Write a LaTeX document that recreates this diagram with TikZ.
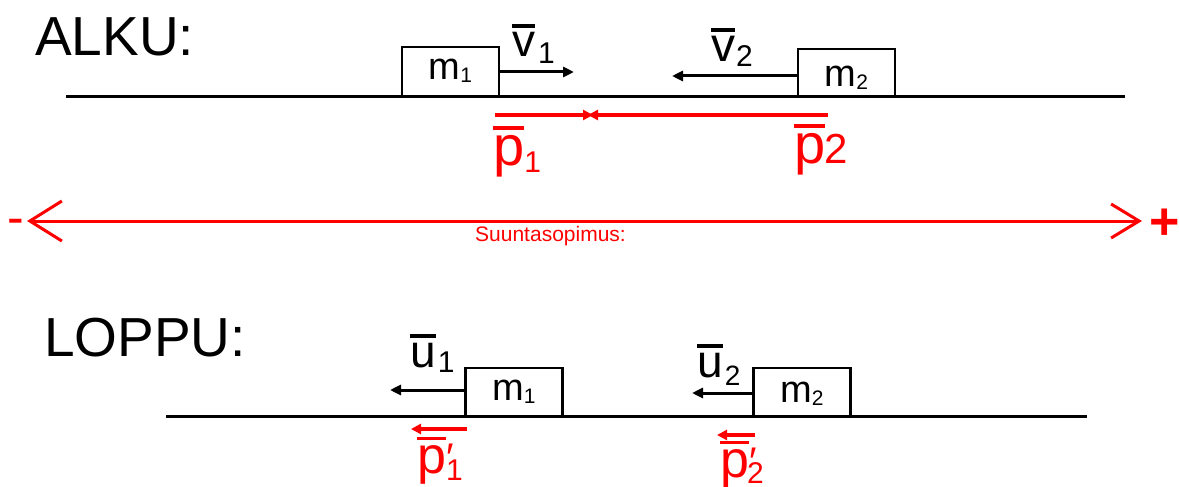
\documentclass[tikz,border=0pt]{standalone}
\usepackage{fontspec}
\setmainfont{Liberation Sans}
\usetikzlibrary{arrows.meta}
\newcommand\fs[1]{\fontsize{#1}{#1}\selectfont}
\newcommand\barred[1]{\setbox0\hbox{#1}\rlap{\raisebox{\dimexpr\ht0+5pt\relax}{\rule{\wd0}{3.5pt}}}\box0}
\begin{document}
\begin{tikzpicture}[x=1pt,y=-1pt,
  txt/.style={inner sep=0pt, anchor=base west},
  ground/.style={line width=3pt},
  mass/.style={draw, line width=2.5pt, inner sep=0pt, minimum width=97pt, font=\fs{38}, text depth=0pt},
  vel/.style={line width=3pt, -{Triangle[length=11pt,width=10pt]}},
  mom/.style={red, line width=4pt, -{Triangle[length=10pt,width=10pt]}},
  conv/.style={red, line width=3pt, {Straight Barb[length=32pt,width=40pt,line width=3pt]}-{Straight Barb[length=28pt,width=34pt,line width=3pt]}}
  ]
\useasboundingbox (0,0) rectangle (1179,487);
% titles
\node[txt,font=\fs{55}] (alku) at (35,56) {ALKU:};
\node[txt,font=\fs{55}] (loppu) at (44,356) {LOPPU:};
% ground lines
\draw[ground] (66,97) -- (1125,97);
\draw[ground] (166,416) -- (1087,416);
% masses
\node[mass, minimum height=50pt, text height=16pt] (m1a) at (450.5,72) {m\raisebox{-3pt}{\fs{21}1}};
\node[mass, minimum height=48pt, text height=28pt] (m2a) at (846.5,73) {m\raisebox{-3pt}{\fs{21}2}};
\node[mass, minimum height=48pt, text height=17pt] (m1b) at (514,392) {m\raisebox{-3pt}{\fs{21}1}};
\node[mass, minimum height=48pt, text height=21pt] (m2b) at (802,392) {m\raisebox{-3pt}{\fs{21}2}};
% velocity arrows
\coordinate (v1e) at (574,72);
\coordinate (v2e) at (672,76);
\coordinate (u1e) at (390,390);
\coordinate (u2e) at (692,393);
\draw[vel] (m1a.east) -- (v1e);
\draw[vel] (m2a.west |- v2e) -- (v2e);
\draw[vel] (m1b.west |- u1e) -- (u1e);
\draw[vel] (m2b.west |- u2e) -- (u2e);
% velocity labels
\node[txt] (v1) at (512,57) {\fs{46}\barred{v}\kern3pt\raisebox{-6pt}{\fs{30}1}};
\node[txt] (v2) at (711,62) {\fs{48}\barred{v}\kern1pt\raisebox{-5pt}{\fs{30}2}};
\node[txt] (u1) at (410,367) {\fs{46}\barred{u}\kern2pt\raisebox{-5pt}{\fs{30}1}};
\node[txt] (u2) at (697,377) {\fs{46}\barred{u}\kern2pt\raisebox{-8pt}{\fs{28}2}};
% momentum arrows
\coordinate (p1s) at (495,115);
\coordinate (p1e) at (593,115);
\coordinate (p2s) at (828,115);
\coordinate (p2e) at (588,115);
\draw[mom] (p2s) -- (p2e);
\draw[mom] (p1s) -- (p1e);
\coordinate (q1s) at (467,429);
\coordinate (q1e) at (411,429);
\coordinate (q2s) at (755,435);
\coordinate (q2e) at (717,435);
\draw[mom] (q1s) -- (q1e);
\draw[mom] (q2s) -- (q2e);
% momentum labels
\node[txt,red] (p1) at (493,165) {\fs{56}\barred{p}\raisebox{-7pt}{\fs{30}1}};
\node[txt,red] (p2) at (794,163) {\fs{56}\barred{p}\kern-1pt{\fs{42}2}};
\node[txt,red] (q1) at (417,473) {\fs{52}\barred{p}\rlap{\raisebox{2pt}{\fs{40}′}}\raisebox{-7pt}{\fs{30}1}};
\node[txt,red] (q2) at (720,477) {\fs{52}\barred{p}\rlap{\raisebox{2pt}{\fs{40}′}}\kern-2pt\raisebox{-6pt}{\fs{30}2}};
% sign convention
\node[txt,red,font=\fs{50}] (minus) at (7,234) {-};
\node[txt,red,font=\fs{52}\bfseries] (plus) at (1149,239) {+};
\coordinate (axis) at (0,221);
\draw[conv] ([xshift=3pt]minus.east |- axis) -- ([xshift=-7pt]plus.west |- axis);
\node[txt,red,font=\fs{21}] (convtext) at (475,241) {Suuntasopimus:};
\end{tikzpicture}
\end{document}
